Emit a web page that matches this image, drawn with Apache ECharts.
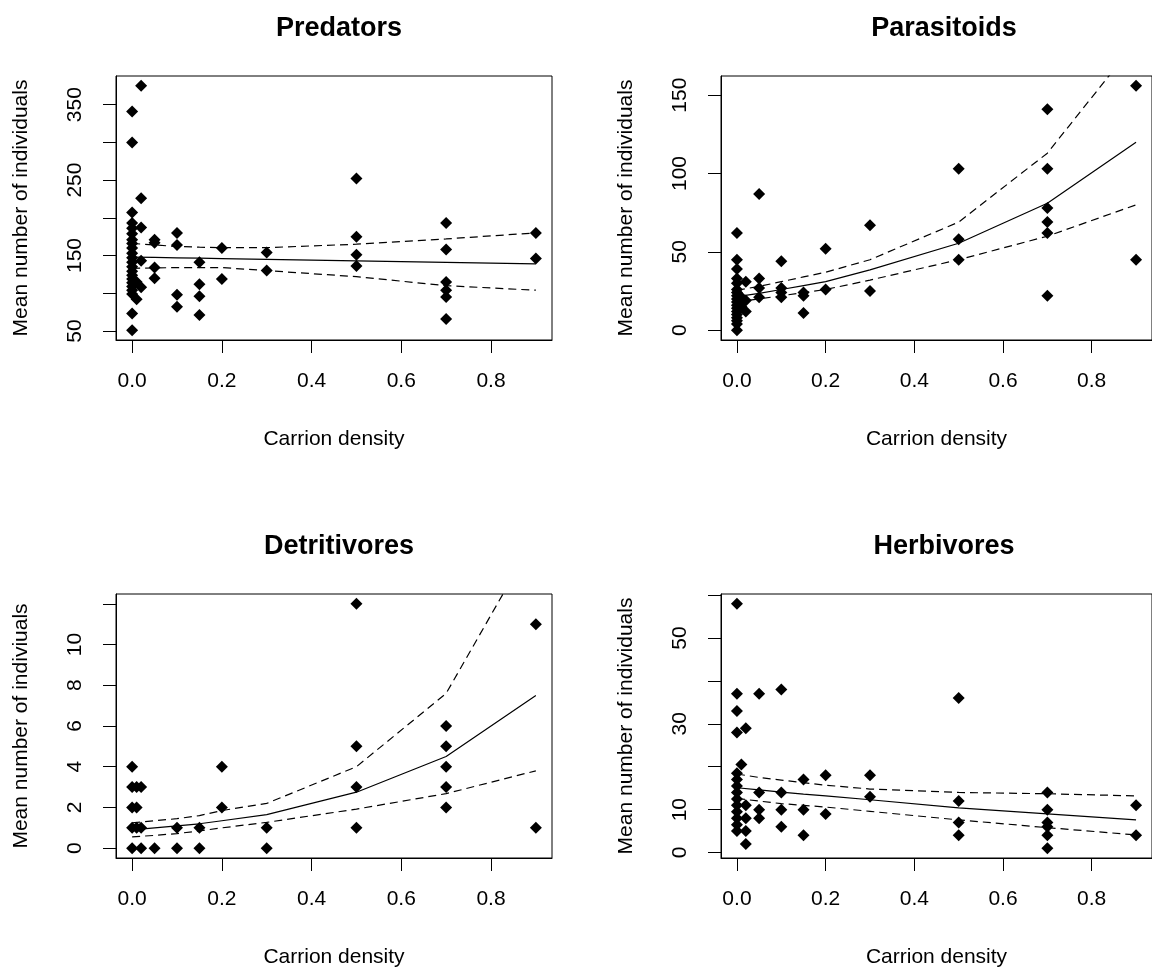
<!DOCTYPE html>
<html>
<head>
<meta charset="utf-8">
<script src="https://cdn.jsdelivr.net/npm/echarts@6/dist/echarts.min.js"></script>
<style>
  html, body { margin: 0; padding: 0; background: #fff; }
  #chart { width: 1152px; height: 969px; }
</style>
</head>
<body>
<div id="chart"></div>
<script>
// carrion density levels shared by all four panels
var densityLevels = [0, 0.01, 0.02, 0.05, 0.1, 0.15, 0.2, 0.3, 0.5, 0.7, 0.9];

// observed counts, one list per density level
var predatorsPoints = [
  [341, 300, 207, 193, 186, 179, 171, 166, 160, 153, 147, 141, 135, 129, 124, 119, 114, 109, 104, 99, 73, 51],
  [92, 115],
  [375, 226, 187, 143, 108],
  [171, 167, 134, 120],
  [180, 164, 98, 82],
  [141, 112, 96, 71],
  [160, 119],
  [154, 130],
  [252, 175, 151, 136],
  [193, 158, 115, 104, 95, 66],
  [180, 146]
];
var parasitoidsPoints = [
  [62, 45, 39, 33, 30, 26, 24, 22, 20, 18, 16, 14, 12, 10, 8, 6, 4, 0],
  [21, 15],
  [31, 19, 12],
  [87, 33, 27, 21],
  [44, 27, 24, 21],
  [24, 22, 11],
  [52, 26],
  [67, 25],
  [103, 58, 45],
  [141, 103, 78, 69, 62, 22],
  [156, 45]
];
var detritivoresPoints = [
  [4, 3, 2, 1, 0],
  [3, 2, 1],
  [3, 1, 0],
  [0],
  [1, 0],
  [1, 0],
  [4, 2],
  [1, 0],
  [12, 5, 3, 1],
  [6, 5, 4, 3, 2],
  [11, 1]
];
var herbivoresPoints = [
  [58, 37, 33, 28, 18.5, 17, 15.5, 14, 12.5, 11, 9.5, 8, 6.5, 5],
  [20.5],
  [29, 11, 8, 5, 2],
  [37, 14, 10, 8],
  [38, 14, 10, 6],
  [17, 10, 4],
  [18, 9],
  [18, 13],
  [36, 12, 7, 4],
  [14, 10, 7, 6, 4, 1],
  [11, 4]
];

// fitted curve and confidence band
var fitX = [0, 0.05, 0.1, 0.15, 0.2, 0.3, 0.5, 0.7, 0.9];
var predatorsFit   = [148, 147.5, 147, 146.5, 146, 145, 143, 141, 139];
var predatorsUpper = [166, 164, 162, 161, 160.5, 160.5, 165, 172, 180];
var predatorsLower = [133, 133.5, 134, 134, 134, 130, 122, 110, 104];
var parasitoidsFit   = [21.5, 23.5, 26, 28.5, 31, 38.5, 55.5, 81, 120];
var parasitoidsUpper = [25.5, 28, 31, 34, 37, 45, 69, 113, 184];
var parasitoidsLower = [18, 20, 22, 24, 26, 32, 45, 60, 80];
var detritivoresFit   = [0.9, 1.0, 1.1, 1.2, 1.35, 1.65, 2.75, 4.5, 7.5];
var detritivoresUpper = [1.25, 1.35, 1.45, 1.6, 1.85, 2.2, 4.0, 7.6, 15.3];
var detritivoresLower = [0.56, 0.63, 0.72, 0.85, 1.0, 1.27, 1.92, 2.68, 3.8];
var herbivoresFit   = [15.1, 14.6, 14.1, 13.6, 13.2, 12.3, 10.4, 9.0, 7.6];
var herbivoresUpper = [18.3, 17.5, 16.9, 16.3, 15.7, 14.8, 14.0, 13.7, 13.2];
var herbivoresLower = [12.6, 12.0, 11.4, 11.0, 10.6, 9.6, 7.6, 5.8, 4.1];

// tick marks and labelled ticks
var xTicks = [0, 0.2, 0.4, 0.6, 0.8];
var predatorsTicks = [50, 100, 150, 200, 250, 300, 350];
var predatorsLabels = [50, 150, 250, 350];
var parasitoidsTicks = [0, 50, 100, 150];
var parasitoidsLabels = [0, 50, 100, 150];
var detritivoresTicks = [0, 2, 4, 6, 8, 10, 12];
var detritivoresLabels = [0, 2, 4, 6, 8, 10];
var herbivoresTicks = [0, 10, 20, 30, 40, 50, 60];
var herbivoresLabels = [0, 10, 30, 50];

var titles = ['Predators', 'Parasitoids', 'Detritivores', 'Herbivores'];
var yNames = ['Mean number of individuals', 'Mean number of individuals',
              'Mean number of indiviuals', 'Mean number of individuals'];

var FONT = 'Liberation Sans, Arial, sans-serif';

function toPairs(points){
  var out = [];
  for(var i=0;i<densityLevels.length;i++){
    for(var j=0;j<points[i].length;j++){
      out.push([densityLevels[i], points[i][j]]);
    }
  }
  return out;
}
function zipLine(ys){
  var out = [];
  for(var i=0;i<fitX.length;i++){
    out.push([fitX[i], ys[i]]);
  }
  return out;
}

var panels = [
  {pts: predatorsPoints, fit: predatorsFit, up: predatorsUpper, lo: predatorsLower,
   ymin: 38, ymax: 388, ticks: predatorsTicks, labels: predatorsLabels},
  {pts: parasitoidsPoints, fit: parasitoidsFit, up: parasitoidsUpper, lo: parasitoidsLower,
   ymin: -6.24, ymax: 162.24, ticks: parasitoidsTicks, labels: parasitoidsLabels},
  {pts: detritivoresPoints, fit: detritivoresFit, up: detritivoresUpper, lo: detritivoresLower,
   ymin: -0.48, ymax: 12.48, ticks: detritivoresTicks, labels: detritivoresLabels},
  {pts: herbivoresPoints, fit: herbivoresFit, up: herbivoresUpper, lo: herbivoresLower,
   ymin: -1.28, ymax: 60.28, ticks: herbivoresTicks, labels: herbivoresLabels}
];

// box positions (px), right column is clipped by the image edge
var boxLeft = [116, 721, 116, 721];
var boxTop = [76, 76, 594, 594];
var boxW = 436, boxH = 264;

var grid = [], xAxis = [], yAxis = [], series = [], title = [];
for(var k=0;k<4;k++){
  grid.push({left: boxLeft[k], top: boxTop[k], width: boxW, height: boxH,
    show: true, borderColor: '#000', borderWidth: 1, backgroundColor: 'transparent'});
  title.push({text: titles[k], left: boxLeft[k] + boxW/2, top: boxTop[k] - 66,
    textAlign: 'center',
    textStyle: {fontFamily: FONT, fontSize: 27, fontWeight: 'bold', color: '#000'}});
  xAxis.push({
    type: 'value', gridIndex: k, min: -0.036, max: 0.936,
    name: 'Carrion density', nameLocation: 'middle', nameGap: 89,
    nameTextStyle: {fontFamily: FONT, fontSize: 21, color: '#000'},
    axisLine: {show: true, onZero: false, lineStyle: {color: '#000', width: 1}},
    axisTick: {show: true, customValues: xTicks, length: 13, lineStyle: {color: '#000', width: 1}},
    axisLabel: {customValues: xTicks, margin: 31, fontFamily: FONT, fontSize: 21, color: '#000',
      formatter: function(v){ return v.toFixed(1); }},
    splitLine: {show: false}
  });
  yAxis.push({
    type: 'value', gridIndex: k, min: panels[k].ymin, max: panels[k].ymax,
    name: yNames[k], nameLocation: 'middle', nameGap: 84, nameRotate: 90,
    nameTextStyle: {fontFamily: FONT, fontSize: 21, color: '#000'},
    axisLine: {show: true, onZero: false, lineStyle: {color: '#000', width: 1}},
    axisTick: {show: true, customValues: panels[k].ticks, length: 13, lineStyle: {color: '#000', width: 1}},
    axisLabel: {customValues: panels[k].labels, rotate: 90, margin: 30,
      fontFamily: FONT, fontSize: 21, color: '#000'},
    splitLine: {show: false}
  });
  series.push({
    type: 'scatter', xAxisIndex: k, yAxisIndex: k, data: toPairs(panels[k].pts),
    symbol: 'diamond', symbolSize: 12, itemStyle: {color: '#000', opacity: 1}, z: 3
  });
  var lines = [[panels[k].fit, 'solid'], [panels[k].up, 'dashed'], [panels[k].lo, 'dashed']];
  for(var m=0;m<lines.length;m++){
    series.push({
      type: 'line', xAxisIndex: k, yAxisIndex: k, data: zipLine(lines[m][0]),
      showSymbol: false, symbol: 'none', clip: true,
      lineStyle: {color: '#000', width: 1.2, type: lines[m][1] == 'dashed' ? [8, 5] : 'solid'},
      z: 2
    });
  }
}

var myChart = echarts.init(document.getElementById('chart'));
myChart.setOption({
  animation: false,
  backgroundColor: '#fff',
  title: title,
  grid: grid,
  xAxis: xAxis,
  yAxis: yAxis,
  series: series
});
</script>
</body>
</html>
